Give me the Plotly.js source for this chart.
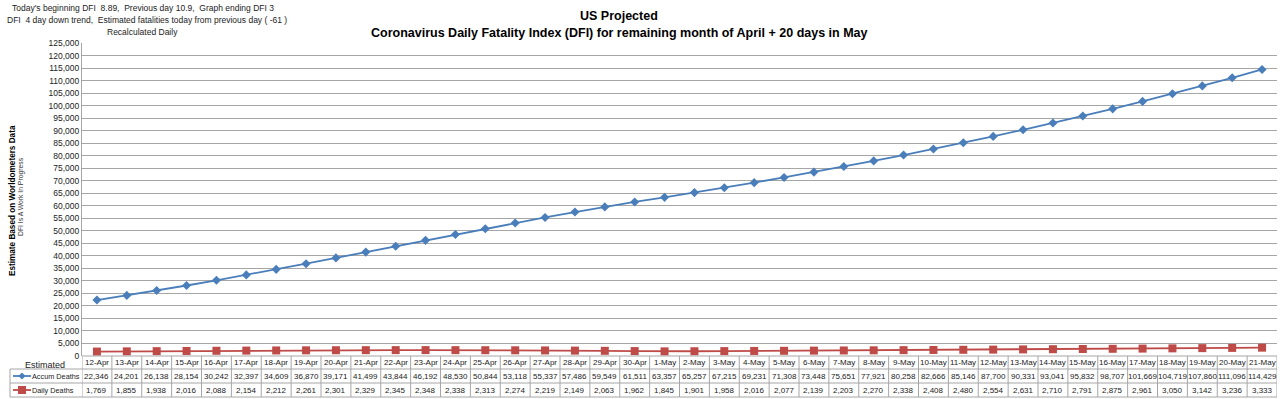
<!DOCTYPE html>
<html>
<head>
<meta charset="utf-8">
<script src="https://cdn.plot.ly/plotly-3.0.1.min.js"></script>
<style>html,body{margin:0;padding:0;background:#fff;}#chart{width:1280px;height:399px;}</style>
</head>
<body>
<div id="chart"></div>
<script>
const dates = ["12-Apr","13-Apr","14-Apr","15-Apr","16-Apr","17-Apr","18-Apr","19-Apr","20-Apr","21-Apr","22-Apr","23-Apr","24-Apr","25-Apr","26-Apr","27-Apr","28-Apr","29-Apr","30-Apr","1-May","2-May","3-May","4-May","5-May","6-May","7-May","8-May","9-May","10-May","11-May","12-May","13-May","14-May","15-May","16-May","17-May","18-May","19-May","20-May","21-May"];
const accumDeaths = [22346,24201,26138,28154,30242,32397,34609,36870,39171,41499,43844,46192,48530,50844,53118,55337,57486,59549,61511,63357,65257,67215,69231,71308,73448,75651,77921,80258,82666,85146,87700,90331,93041,95832,98707,101669,104719,107860,111096,114429];
const dailyDeaths = [1769,1855,1938,2016,2088,2154,2212,2261,2301,2329,2345,2348,2338,2313,2274,2219,2149,2063,1962,1845,1901,1958,2016,2077,2139,2203,2270,2338,2408,2480,2554,2631,2710,2791,2875,2961,3050,3142,3236,3333];
const seriesNames = ["Accum Deaths","Daily Deaths"];

const W = 1280, H = 399, L = 82, R = 3, T = 43, B = 43;
const pw = W - L - R, ph = H - T - B;
const px = v => (v - L) / pw;           // container px -> paper x
const py = v => (H - B - v) / ph;       // container px -> paper y

const FONT = "Liberation Sans, Arial, sans-serif";
const blue = "#4a7ebb", red = "#be4b48", grid = "#a6a6a6";
const fmt = n => n.toLocaleString("en-US");

const traces = [
  {x: dates, y: accumDeaths, name: seriesNames[0], type: "scatter", mode: "lines+markers",
   line: {color: blue, width: 1.8}, marker: {symbol: "diamond", size: 7, color: blue}},
  {x: dates, y: dailyDeaths, name: seriesNames[1], type: "scatter", mode: "lines+markers",
   line: {color: red, width: 1.8}, marker: {symbol: "square", size: 8, color: red}}
];

const rowTop = 356, rowB1 = 369, rowB2 = 383, rowBot = 397;
const shapes = [];
const annotations = [];
const lineStyle = {color: grid, width: 1};

[rowTop, rowB1, rowB2, rowBot].forEach(yy => {
  shapes.push({type: "line", xref: "x", yref: "paper", x0: -0.5, x1: dates.length - 0.5, y0: py(yy), y1: py(yy), line: lineStyle});
});
[rowB1, rowB2, rowBot].forEach(yy => {
  shapes.push({type: "line", xref: "paper", yref: "paper", x0: px(10), x1: 0, y0: py(yy), y1: py(yy), line: lineStyle});
});
shapes.push({type: "line", xref: "paper", yref: "paper", x0: px(10), x1: px(10), y0: py(rowB1), y1: py(rowBot), line: lineStyle});
for (let i = 0; i <= dates.length; i++) {
  shapes.push({type: "line", xref: "x", yref: "paper", x0: i - 0.5, x1: i - 0.5, y0: py(rowTop), y1: py(rowBot), line: lineStyle});
}
const keyRows = [[(rowB1 + rowB2) / 2, blue, "diamond"], [(rowB2 + rowBot) / 2, red, "square"]];
keyRows.forEach(([yc, col, sym]) => {
  shapes.push({type: "line", xref: "paper", yref: "paper", x0: px(13), x1: px(31), y0: py(yc), y1: py(yc), line: {color: col, width: 1.8}});
  const cx = 22;
  if (sym === "diamond") {
    const p = `M${px(cx)},${py(yc - 3.5)} L${px(cx + 3.5)},${py(yc)} L${px(cx)},${py(yc + 3.5)} L${px(cx - 3.5)},${py(yc)} Z`;
    shapes.push({type: "path", xref: "paper", yref: "paper", path: p, fillcolor: col, line: {color: col, width: 0}});
  } else {
    shapes.push({type: "rect", xref: "paper", yref: "paper", x0: px(cx - 4), x1: px(cx + 4), y0: py(yc - 4), y1: py(yc + 4), fillcolor: col, line: {color: col, width: 0}});
  }
});

const tFont = {family: FONT, size: 8, color: "#222"};
const rowCenters = [(rowTop + rowB1) / 2, (rowB1 + rowB2) / 2, (rowB2 + rowBot) / 2];
dates.forEach((d, i) => {
  annotations.push({xref: "x", yref: "paper", x: d, y: py(rowCenters[0]), text: d, showarrow: false, font: tFont, xanchor: "center", yanchor: "middle"});
  annotations.push({xref: "x", yref: "paper", x: d, y: py(rowCenters[1]), text: fmt(accumDeaths[i]), showarrow: false, font: tFont, xanchor: "center", yanchor: "middle"});
  annotations.push({xref: "x", yref: "paper", x: d, y: py(rowCenters[2]), text: fmt(dailyDeaths[i]), showarrow: false, font: tFont, xanchor: "center", yanchor: "middle"});
});
annotations.push({xref: "paper", yref: "paper", x: px(45), y: py(rowCenters[0] + 2), text: "Estimated", showarrow: false, font: {family: FONT, size: 9, color: "#222"}, xanchor: "center", yanchor: "middle"});
annotations.push({xref: "paper", yref: "paper", x: px(31), y: py(rowCenters[1]), text: seriesNames[0], showarrow: false, font: {family: FONT, size: 7.3, color: "#222"}, xanchor: "left", yanchor: "middle", borderpad: 0});
annotations.push({xref: "paper", yref: "paper", x: px(31), y: py(rowCenters[2]), text: seriesNames[1], showarrow: false, font: {family: FONT, size: 7.3, color: "#222"}, xanchor: "left", yanchor: "middle", borderpad: 0});

// title lines
annotations.push({xref: "paper", yref: "paper", x: px(619), y: py(16), text: "<b>US Projected</b>", showarrow: false, font: {family: FONT, size: 12.5, color: "#000"}, xanchor: "center", yanchor: "middle"});
annotations.push({xref: "paper", yref: "paper", x: px(619), y: py(33), text: "<b>Coronavirus Daily Fatality Index (DFI) for remaining month of April + 20 days in May</b>", showarrow: false, font: {family: FONT, size: 12.5, color: "#000"}, xanchor: "center", yanchor: "middle"});

// top-left notes
const noteFont = {family: FONT, size: 8.5, color: "#222"};
annotations.push({xref: "paper", yref: "paper", x: px(10), y: py(8), text: "Today's beginning DFI  8.89,  Previous day 10.9,  Graph ending DFI 3", showarrow: false, font: noteFont, xanchor: "left", yanchor: "middle"});
annotations.push({xref: "paper", yref: "paper", x: px(5), y: py(20), text: "DFI  4 day down trend,  Estimated fatalities today from previous day ( -61 )", showarrow: false, font: noteFont, xanchor: "left", yanchor: "middle"});
annotations.push({xref: "paper", yref: "paper", x: px(105), y: py(32), text: "Recalculated Daily", showarrow: false, font: noteFont, xanchor: "left", yanchor: "middle"});
// y titles (rotated)
annotations.push({xref: "paper", yref: "paper", x: px(12), y: py(201), text: "<b>Estimate Based on Worldometers Data</b>", textangle: -90, showarrow: false, font: {family: FONT, size: 8.2, color: "#000"}, xanchor: "center", yanchor: "middle"});
annotations.push({xref: "paper", yref: "paper", x: px(21), y: py(197), text: "DFI Is A Work In Progress", textangle: -90, showarrow: false, font: {family: FONT, size: 6.8, color: "#333"}, xanchor: "center", yanchor: "middle"});

const layout = {
  width: W, height: H,
  margin: {l: L, r: R, t: T, b: B},
  paper_bgcolor: "#fff", plot_bgcolor: "#fff",
  showlegend: false,
  xaxis: {
    type: "category", range: [-0.5, dates.length - 0.5],
    showticklabels: false, showgrid: false, zeroline: false, showline: false, ticks: ""
  },
  yaxis: {
    range: [0, 125000], dtick: 5000, tickformat: ",d",
    showgrid: true, gridcolor: grid, gridwidth: 1, zeroline: false,
    showline: true, linecolor: grid, linewidth: 1,
    ticks: "", ticklen: 0,
    tickfont: {family: FONT, size: 8.5, color: "#222"}
  },
  shapes: shapes,
  annotations: annotations
};

Plotly.newPlot("chart", traces, layout, {displayModeBar: false, staticPlot: true});
</script>
</body>
</html>
